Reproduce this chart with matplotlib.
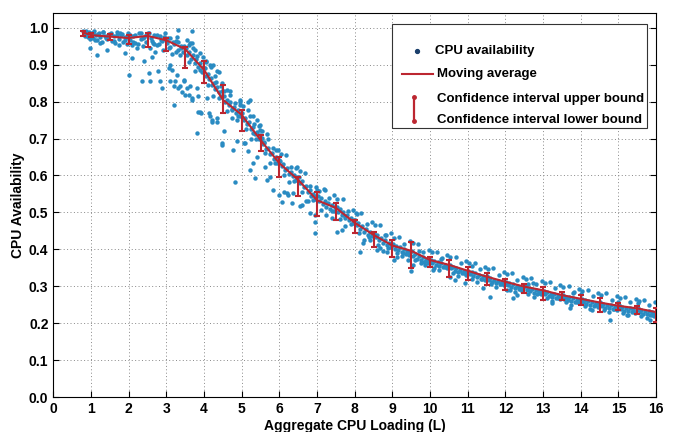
import matplotlib
matplotlib.use("Agg")
import matplotlib.pyplot as plt
from matplotlib.patches import Rectangle
from matplotlib.lines import Line2D

plt.rcParams['font.family'] = ['Liberation Sans', 'DejaVu Sans']

# ---- moving average and confidence interval ----
ma_x = [0.8, 1.0, 1.5, 2.0, 2.5, 3.0, 3.5, 4.0, 4.5, 5.0, 5.5, 6.0, 6.5, 7.0, 7.5, 8.0,
        8.5, 9.0, 9.5, 10.0, 10.5, 11.0, 11.5, 12.0, 12.5, 13.0, 13.5, 14.0, 14.5, 15.0,
        15.5, 16.0]
ma_y = [0.987, 0.980, 0.976, 0.972, 0.978, 0.966, 0.942, 0.886, 0.805, 0.764, 0.696, 0.633,
        0.588, 0.533, 0.512, 0.472, 0.439, 0.410, 0.396, 0.371, 0.358, 0.342, 0.326, 0.312,
        0.299, 0.289, 0.276, 0.266, 0.256, 0.247, 0.240, 0.230]
ci_lo = [0.978, 0.975, 0.968, 0.955, 0.949, 0.936, 0.891, 0.850, 0.770, 0.719, 0.665, 0.597,
         0.543, 0.489, 0.480, 0.444, 0.407, 0.380, 0.349, 0.353, 0.326, 0.317, 0.303, 0.290,
         0.282, 0.263, 0.262, 0.250, 0.231, 0.236, 0.225, 0.204]
ci_hi = [0.992, 0.985, 0.982, 0.980, 0.986, 0.973, 0.949, 0.909, 0.845, 0.778, 0.710, 0.651,
         0.597, 0.556, 0.526, 0.480, 0.448, 0.425, 0.421, 0.380, 0.371, 0.353, 0.335, 0.320,
         0.305, 0.299, 0.285, 0.275, 0.268, 0.255, 0.246, 0.241]

# ---- CPU availability samples (core of the band) ----
band_x = [0.80, 0.82, 0.85, 0.88, 0.90, 0.93, 0.95, 0.98,
          1.02, 1.05, 1.08, 1.12, 1.15, 1.20, 1.25, 1.30, 1.33, 1.38, 1.42, 1.47,
          1.52, 1.55, 1.60, 1.65, 1.70, 1.75, 1.80, 1.85, 1.90, 1.95, 1.98,
          2.03, 2.08, 2.12, 2.18, 2.22, 2.27, 2.32, 2.38, 2.42, 2.47,
          2.52, 2.56, 2.60, 2.65, 2.70, 2.74, 2.80, 2.85, 2.90, 2.95,
          3.02, 3.06, 3.10, 3.15, 3.20, 3.25, 3.30, 3.35, 3.40, 3.45,
          3.52, 3.56, 3.60, 3.65, 3.70, 3.75, 3.80, 3.85, 3.90, 3.95, 3.98,
          4.02, 4.05, 4.10, 4.14, 4.18, 4.22, 4.26, 4.30, 4.35, 4.40, 4.45, 4.48,
          4.52, 4.56, 4.60, 4.65, 4.70, 4.75, 4.80, 4.85, 4.90, 4.95, 4.98,
          5.02, 5.06, 5.10, 5.15, 5.20, 5.25, 5.30, 5.35, 5.40, 5.45, 5.48,
          5.52, 5.56, 5.60, 5.65, 5.70, 5.75, 5.80, 5.85, 5.90, 5.95, 5.98,
          6.02, 6.06, 6.10, 6.15, 6.20, 6.25, 6.30, 6.35, 6.40, 6.45, 6.48,
          6.52, 6.56, 6.60, 6.65, 6.70, 6.75, 6.80, 6.85, 6.90, 6.95, 6.98,
          7.02, 7.06, 7.10, 7.15, 7.20, 7.25, 7.30, 7.35, 7.40, 7.45, 7.48,
          7.52, 7.56, 7.60, 7.65, 7.70, 7.75, 7.80, 7.85, 7.90, 7.95, 7.98,
          8.02, 8.06, 8.10, 8.15, 8.20, 8.25, 8.30, 8.35, 8.40, 8.45, 8.48,
          8.52, 8.56, 8.60, 8.65, 8.70, 8.75, 8.80, 8.85, 8.90, 8.95, 8.98,
          9.02, 9.06, 9.10, 9.15, 9.20, 9.25, 9.30, 9.35, 9.40, 9.45, 9.48,
          9.52, 9.56, 9.60, 9.65, 9.70, 9.75, 9.80, 9.85, 9.90, 9.95, 9.98,
          10.02, 10.06, 10.10, 10.15, 10.20, 10.25, 10.30, 10.35, 10.40, 10.45, 10.48,
          10.52, 10.56, 10.60, 10.65, 10.70, 10.75, 10.80, 10.85, 10.90, 10.95, 10.98,
          11.02, 11.06, 11.10, 11.15, 11.20, 11.25, 11.30, 11.35, 11.40, 11.45, 11.48,
          11.52, 11.56, 11.60, 11.65, 11.70, 11.75, 11.80, 11.85, 11.90, 11.95, 11.98,
          12.02, 12.06, 12.10, 12.15, 12.20, 12.25, 12.30, 12.35, 12.40, 12.45, 12.48,
          12.52, 12.56, 12.60, 12.65, 12.70, 12.75, 12.80, 12.85, 12.90, 12.95, 12.98,
          13.02, 13.06, 13.10, 13.15, 13.20, 13.25, 13.30, 13.35, 13.40, 13.45, 13.48,
          13.52, 13.56, 13.60, 13.65, 13.70, 13.75, 13.80, 13.85, 13.90, 13.95, 13.98,
          14.02, 14.06, 14.10, 14.15, 14.20, 14.25, 14.30, 14.35, 14.40, 14.45, 14.48,
          14.52, 14.56, 14.60, 14.65, 14.70, 14.75, 14.80, 14.85, 14.90, 14.95, 14.98,
          15.02, 15.06, 15.10, 15.15, 15.20, 15.25, 15.30, 15.35, 15.40, 15.45, 15.48,
          15.52, 15.56, 15.60, 15.65, 15.70, 15.75, 15.80, 15.85, 15.90, 15.95, 15.98]
band_y = [0.990, 0.985, 0.978, 0.992, 0.982, 0.975, 0.988, 0.970,
          0.985, 0.972, 0.990, 0.980, 0.968, 0.985, 0.975, 0.962, 0.988, 0.978, 0.970, 0.983,
          0.985, 0.965, 0.978, 0.958, 0.988, 0.970, 0.980, 0.962, 0.975, 0.955, 0.985,
          0.968, 0.952, 0.978, 0.960, 0.945, 0.985, 0.970, 0.950, 0.975, 0.962,
          0.985, 0.945, 0.972, 0.960, 0.935, 0.980, 0.955, 0.968, 0.940, 0.975,
          0.960, 0.945, 0.972, 0.930, 0.955, 0.965, 0.940, 0.925, 0.950, 0.935,
          0.945, 0.925, 0.935, 0.915, 0.925, 0.905, 0.915, 0.895, 0.905, 0.880, 0.895,
          0.890, 0.870, 0.875, 0.860, 0.865, 0.845, 0.850, 0.835, 0.840, 0.825, 0.815, 0.830,
          0.815, 0.800, 0.805, 0.790, 0.800, 0.780, 0.785, 0.770, 0.778, 0.760, 0.770,
          0.770, 0.750, 0.755, 0.740, 0.745, 0.725, 0.730, 0.712, 0.718, 0.700, 0.710,
          0.700, 0.685, 0.690, 0.672, 0.675, 0.658, 0.662, 0.645, 0.650, 0.635, 0.642,
          0.640, 0.625, 0.630, 0.615, 0.620, 0.605, 0.610, 0.598, 0.602, 0.588, 0.595,
          0.595, 0.580, 0.585, 0.568, 0.572, 0.555, 0.560, 0.545, 0.550, 0.535, 0.545,
          0.545, 0.530, 0.538, 0.522, 0.530, 0.515, 0.525, 0.510, 0.520, 0.505, 0.515,
          0.515, 0.500, 0.508, 0.492, 0.500, 0.485, 0.492, 0.478, 0.485, 0.470, 0.478,
          0.478, 0.465, 0.470, 0.455, 0.462, 0.448, 0.455, 0.440, 0.448, 0.435, 0.442,
          0.445, 0.432, 0.438, 0.425, 0.430, 0.418, 0.425, 0.412, 0.418, 0.405, 0.412,
          0.415, 0.402, 0.410, 0.398, 0.405, 0.392, 0.400, 0.388, 0.395, 0.385, 0.392,
          0.395, 0.382, 0.388, 0.375, 0.382, 0.370, 0.378, 0.365, 0.372, 0.362, 0.370,
          0.372, 0.362, 0.368, 0.358, 0.365, 0.355, 0.362, 0.352, 0.358, 0.348, 0.355,
          0.358, 0.348, 0.352, 0.342, 0.348, 0.338, 0.345, 0.335, 0.340, 0.330, 0.338,
          0.342, 0.332, 0.338, 0.328, 0.335, 0.325, 0.330, 0.320, 0.328, 0.318, 0.325,
          0.328, 0.318, 0.322, 0.312, 0.318, 0.308, 0.315, 0.305, 0.312, 0.302, 0.310,
          0.312, 0.302, 0.308, 0.298, 0.305, 0.295, 0.300, 0.292, 0.298, 0.288, 0.295,
          0.300, 0.290, 0.296, 0.286, 0.292, 0.282, 0.290, 0.280, 0.286, 0.278, 0.285,
          0.288, 0.278, 0.284, 0.274, 0.280, 0.270, 0.278, 0.268, 0.275, 0.265, 0.272,
          0.276, 0.266, 0.272, 0.262, 0.270, 0.260, 0.267, 0.258, 0.264, 0.255, 0.262,
          0.266, 0.256, 0.262, 0.252, 0.260, 0.248, 0.256, 0.246, 0.254, 0.244, 0.252,
          0.256, 0.246, 0.252, 0.242, 0.250, 0.240, 0.248, 0.238, 0.246, 0.236, 0.244,
          0.248, 0.238, 0.244, 0.234, 0.242, 0.232, 0.240, 0.230, 0.238, 0.228, 0.236,
          0.240, 0.230, 0.236, 0.226, 0.234, 0.224, 0.232, 0.222, 0.230, 0.220, 0.228]

# ---- CPU availability samples (outer edges of the band) ----
edge_x = [1.04, 1.11, 1.18, 1.25, 1.32, 1.39, 1.46,
          1.54, 1.61, 1.68, 1.75, 1.82, 1.89, 1.96,
          2.04, 2.11, 2.18, 2.25, 2.32, 2.39, 2.46,
          2.54, 2.61, 2.68, 2.75, 2.82, 2.89, 2.96,
          3.04, 3.11, 3.18, 3.25, 3.32, 3.39, 3.46,
          3.54, 3.61, 3.68, 3.75, 3.82, 3.89, 3.96,
          4.04, 4.11, 4.18, 4.25, 4.32, 4.39, 4.46,
          4.54, 4.61, 4.68, 4.75, 4.82, 4.89, 4.96,
          5.04, 5.11, 5.18, 5.25, 5.32, 5.39, 5.46,
          5.54, 5.61, 5.68, 5.75, 5.82, 5.89, 5.96,
          6.04, 6.11, 6.18, 6.25, 6.32, 6.39, 6.46,
          6.54, 6.61, 6.68, 6.75, 6.82, 6.89, 6.96,
          7.04, 7.11, 7.18, 7.25, 7.32, 7.39, 7.46,
          7.54, 7.61, 7.68, 7.75, 7.82, 7.89, 7.96,
          8.04, 8.11, 8.18, 8.25, 8.32, 8.39, 8.46,
          8.54, 8.61, 8.68, 8.75, 8.82, 8.89, 8.96,
          9.04, 9.11, 9.18, 9.25, 9.32, 9.39, 9.46,
          9.54, 9.61, 9.68, 9.75, 9.82, 9.89, 9.96,
          10.04, 10.11, 10.18, 10.25, 10.32, 10.39, 10.46,
          10.54, 10.61, 10.68, 10.75, 10.82, 10.89, 10.96,
          11.04, 11.11, 11.18, 11.25, 11.32, 11.39, 11.46,
          11.54, 11.61, 11.68, 11.75, 11.82, 11.89, 11.96,
          12.04, 12.11, 12.18, 12.25, 12.32, 12.39, 12.46,
          12.54, 12.61, 12.68, 12.75, 12.82, 12.89, 12.96,
          13.04, 13.11, 13.18, 13.25, 13.32, 13.39, 13.46,
          13.54, 13.61, 13.68, 13.75, 13.82, 13.89, 13.96,
          14.04, 14.11, 14.18, 14.25, 14.32, 14.39, 14.46,
          14.54, 14.61, 14.68, 14.75, 14.82, 14.89, 14.96,
          15.04, 15.11, 15.18, 15.25, 15.32, 15.39, 15.46,
          15.54, 15.61, 15.68, 15.75, 15.82, 15.89, 15.96]
edge_y = [0.986, 0.966, 0.983, 0.958, 0.988, 0.973, 0.980,
          0.984, 0.963, 0.980, 0.954, 0.984, 0.967, 0.974,
          0.980, 0.961, 0.979, 0.955, 0.987, 0.972, 0.979,
          0.985, 0.963, 0.979, 0.952, 0.978, 0.964, 0.969,
          0.972, 0.949, 0.962, 0.934, 0.961, 0.944, 0.950,
          0.966, 0.908, 0.960, 0.884, 0.924, 0.886, 0.922,
          0.908, 0.846, 0.895, 0.816, 0.852, 0.811, 0.843,
          0.830, 0.774, 0.828, 0.755, 0.797, 0.761, 0.799,
          0.787, 0.727, 0.778, 0.700, 0.738, 0.699, 0.733,
          0.719, 0.660, 0.711, 0.635, 0.674, 0.635, 0.670,
          0.657, 0.601, 0.655, 0.581, 0.622, 0.586, 0.624,
          0.612, 0.554, 0.606, 0.531, 0.571, 0.533, 0.569,
          0.559, 0.506, 0.563, 0.493, 0.538, 0.505, 0.546,
          0.537, 0.481, 0.536, 0.462, 0.504, 0.469, 0.507,
          0.497, 0.443, 0.498, 0.426, 0.469, 0.434, 0.474,
          0.465, 0.411, 0.467, 0.395, 0.438, 0.404, 0.444,
          0.431, 0.389, 0.433, 0.381, 0.415, 0.389, 0.422,
          0.416, 0.372, 0.415, 0.362, 0.394, 0.367, 0.398,
          0.392, 0.350, 0.394, 0.343, 0.377, 0.351, 0.384,
          0.379, 0.336, 0.380, 0.328, 0.362, 0.336, 0.368,
          0.363, 0.320, 0.364, 0.312, 0.346, 0.320, 0.352,
          0.347, 0.305, 0.349, 0.297, 0.331, 0.305, 0.338,
          0.333, 0.291, 0.335, 0.284, 0.318, 0.292, 0.325,
          0.320, 0.279, 0.323, 0.272, 0.307, 0.281, 0.315,
          0.310, 0.268, 0.312, 0.261, 0.295, 0.269, 0.302,
          0.297, 0.256, 0.300, 0.249, 0.284, 0.258, 0.292,
          0.287, 0.246, 0.290, 0.239, 0.274, 0.248, 0.282,
          0.277, 0.236, 0.281, 0.230, 0.264, 0.239, 0.273,
          0.268, 0.227, 0.272, 0.222, 0.257, 0.232, 0.266,
          0.261, 0.220, 0.264, 0.213, 0.248, 0.222, 0.256]

# ---- CPU availability samples (scattered points off the band) ----
spread_x = [0.98, 1.16, 1.42, 1.91, 2.09, 2.00, 2.35, 2.57, 2.53, 2.40, 2.62, 2.79, 2.84,
            2.88, 3.10, 3.10, 3.19, 3.28, 3.37, 3.41, 3.46, 3.59, 3.68, 3.19, 3.85, 3.81,
            3.59, 3.28, 2.97, 1.78, 2.66, 3.68, 3.63, 3.72, 3.90, 3.06, 3.15, 3.24, 3.32,
            3.46, 3.55, 3.63, 3.50, 3.81, 3.85, 3.68, 3.90, 3.92, 4.08, 4.16, 4.21, 4.34,
            4.47, 4.16, 4.25, 4.34, 4.40, 4.47, 4.60, 4.70, 4.74, 4.87, 5.18, 5.23, 5.40,
            5.49, 5.31, 5.09, 5.58, 4.12, 4.21, 4.34, 4.52, 4.47, 4.78, 4.87, 4.83, 5.05,
            5.18, 5.23, 5.31, 5.36, 5.40, 5.62, 5.67, 5.76, 5.84, 5.98, 6.07, 6.24, 6.33,
            6.55, 6.70, 6.82, 6.95, 4.96, 5.23, 5.31, 5.49, 5.54, 6.11, 6.20, 6.37, 6.60,
            6.95, 6.95, 7.39, 7.52, 7.66, 7.75, 8.14, 8.23, 8.40, 8.59, 8.67, 8.85, 9.11,
            9.29, 9.42, 9.56, 9.03, 9.50, 9.87, 10.09, 10.53, 10.66, 10.93, 11.41, 11.59,
            12.03, 12.21, 12.30, 12.74, 13.23, 13.71, 14.29, 14.77, 15.22, 15.53, 15.84,
            13.80, 3.30, 3.75, 4.05, 4.95, 5.70, 6.45, 7.20, 8.05, 8.80, 9.70, 10.30,
            11.10, 12.60, 14.00, 15.00, 4.30, 5.90, 7.00]
spread_y = [0.945, 0.927, 0.940, 0.931, 0.918, 0.873, 0.855, 0.855, 0.877, 0.909, 0.922,
            0.882, 0.855, 0.837, 0.900, 0.855, 0.841, 0.873, 0.841, 0.827, 0.859, 0.818,
            0.809, 0.790, 0.773, 0.715, 0.954, 0.976, 0.985, 0.987, 0.956, 0.990, 0.958,
            0.945, 0.931, 0.891, 0.886, 0.855, 0.837, 0.855, 0.837, 0.841, 0.818, 0.837,
            0.814, 0.805, 0.773, 0.770, 0.809, 0.760, 0.750, 0.746, 0.683, 0.900, 0.900,
            0.882, 0.880, 0.850, 0.832, 0.818, 0.777, 0.750, 0.800, 0.760, 0.750, 0.723,
            0.715, 0.687, 0.687, 0.769, 0.746, 0.755, 0.719, 0.687, 0.669, 0.692, 0.583,
            0.687, 0.665, 0.615, 0.633, 0.593, 0.650, 0.624, 0.588, 0.597, 0.561, 0.547,
            0.529, 0.547, 0.525, 0.516, 0.530, 0.498, 0.493, 0.805, 0.805, 0.760, 0.737,
            0.701, 0.556, 0.552, 0.552, 0.520, 0.444, 0.475, 0.484, 0.448, 0.453, 0.489,
            0.394, 0.417, 0.425, 0.398, 0.403, 0.394, 0.380, 0.389, 0.371, 0.358, 0.371,
            0.340, 0.358, 0.344, 0.326, 0.317, 0.308, 0.295, 0.272, 0.290, 0.267, 0.275,
            0.308, 0.254, 0.240, 0.236, 0.209, 0.222, 0.254, 0.209, 0.281, 0.995, 0.940,
            0.910, 0.790, 0.700, 0.620, 0.560, 0.495, 0.440, 0.395, 0.375, 0.355, 0.305,
            0.278, 0.258, 0.870, 0.670, 0.560]

x_ticks = list(range(0, 17))
y_ticks = [0.0, 0.1, 0.2, 0.3, 0.4, 0.5, 0.6, 0.7, 0.8, 0.9, 1.0]

blue = '#2A8BC2'
red = '#BC2630'

fig = plt.figure(figsize=(6.75, 4.32), dpi=100)
ax = fig.add_axes([0.079, 0.081, 0.893, 0.889])

for xs, ys in ((band_x, band_y), (edge_x, edge_y), (spread_x, spread_y)):
    ax.plot(xs, ys, linestyle='none', marker='o', markersize=3.2,
            color=blue, markeredgewidth=0, zorder=2)

err_lo = [m - l for m, l in zip(ma_y, ci_lo)]
err_hi = [h - m for m, h in zip(ma_y, ci_hi)]
ax.errorbar(ma_x, ma_y, yerr=[err_lo, err_hi], color=red, linewidth=1.5,
            elinewidth=1.5, capsize=2.5, capthick=1.5, zorder=3)

ax.set_xlim(0, 16)
ax.set_ylim(0, 1.04)
ax.set_xticks(x_ticks)
ax.set_yticks(y_ticks)
ax.set_xticklabels([str(t) for t in x_ticks], fontsize=10, fontweight='bold')
ax.set_yticklabels(['%.1f' % t for t in y_ticks], fontsize=10, fontweight='bold')
ax.tick_params(direction='in', top=False, right=True, length=4, width=0.8)
ax.grid(True, linestyle=(0, (1, 2.5)), color='#888888', linewidth=0.7)
ax.set_axisbelow(True)
for s in ax.spines.values():
    s.set_linewidth(0.8)

ax.set_xlabel('Aggregate CPU Loading (L)', fontsize=10, fontweight='bold', labelpad=2)
ax.set_ylabel('CPU Availability', fontsize=10, fontweight='bold', labelpad=3)

# ---- legend drawn in axes coordinates ----
lx0, ly0, lw, lh = 0.562, 0.700, 0.423, 0.270
ax.add_patch(Rectangle((lx0, ly0), lw, lh, transform=ax.transAxes,
                       facecolor='white', edgecolor='#333333', linewidth=0.8, zorder=5))
fs = 9.5
ax.plot([0.603], [0.902], transform=ax.transAxes, marker='o', markersize=2.8,
        color='#1a3f6b', linestyle='none', zorder=6)
ax.text(0.634, 0.902, 'CPU availability', transform=ax.transAxes, fontsize=fs,
        fontweight='bold', va='center', ha='left', zorder=6)
ax.add_line(Line2D([0.578, 0.630], [0.840, 0.840], transform=ax.transAxes,
                   color=red, linewidth=1.5, zorder=6))
ax.text(0.637, 0.840, 'Moving average', transform=ax.transAxes, fontsize=fs,
        fontweight='bold', va='center', ha='left', zorder=6)
ax.add_line(Line2D([0.599, 0.599], [0.718, 0.780], transform=ax.transAxes,
                   color=red, linewidth=1.6, zorder=6))
ax.plot([0.599, 0.599], [0.718, 0.780], transform=ax.transAxes, marker='o',
        markersize=2.5, color=red, linestyle='none', zorder=6)
ax.text(0.636, 0.776, 'Confidence interval upper bound', transform=ax.transAxes,
        fontsize=fs, fontweight='bold', va='center', ha='left', zorder=6)
ax.text(0.636, 0.720, 'Confidence interval lower bound', transform=ax.transAxes,
        fontsize=fs, fontweight='bold', va='center', ha='left', zorder=6)

fig.savefig('out.png', dpi=100)
